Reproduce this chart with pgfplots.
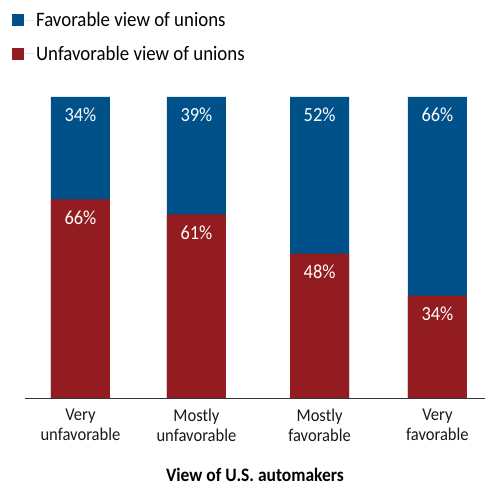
\documentclass[border=0pt]{standalone}
\usepackage{pgfplots}
\pgfplotsset{compat=1.18}
\usepackage{fontspec}
\setmainfont{Carlito}[FakeStretch=0.92]
\definecolor{favblue}{HTML}{005189}
\definecolor{unfred}{HTML}{921C1F}
\begin{document}
\begin{tikzpicture}
\useasboundingbox (-25pt,-87pt) rectangle (460pt,398pt);
\begin{axis}[
  scale only axis,
  width=460pt, height=301pt,
  at={(0pt,0pt)}, anchor=south west,
  xmin=-0.466, xmax=3.40,
  ymin=0, ymax=100,
  ybar, bar shift=0pt,
  bar width=59pt,
  axis x line=bottom,
  axis y line=none,
  x axis line style={-, line width=0.9pt, black!80},
  major tick length=0pt,
  xtick={0,0.975,2.01,3},
  xticklabels={{Very\\unfavorable},{Mostly\\unfavorable},{Mostly\\favorable},{Very\\favorable}},
  xticklabel style={align=center, font=\fontsize{18}{20}\selectfont, text=black!90, yshift=-7pt},
  xlabel={\textbf{View of U.S. automakers}},
  xlabel style={font=\fontsize{19}{22}\selectfont, yshift=-20pt},
  point meta=explicit,
  nodes near coords={\pgfmathprintnumber[assume math mode=true]{\pgfplotspointmeta}\%},
  every node near coord/.append style={anchor=center, yshift=-18pt, text=white, font=\fontsize{20}{22}\selectfont},
  legend style={at={(-0.028,1.287)}, anchor=north west, draw=none, fill=none, inner sep=0pt, outer sep=0pt,
    font=\fontsize{20.5}{22}\selectfont, row sep=13.5pt, cells={anchor=west}},
  legend cell align=left,
  legend image code/.code={\path (0pt,0pt) -- (22pt,0pt); \fill[#1] (0pt,-6pt) rectangle (12pt,6pt);},
]
% Favorable view of unions (full bar: unfavorable + favorable = 100, label = favorable share)
\addplot[fill=favblue, draw=none] coordinates {(0,100) [34] (0.975,100) [39] (2.01,100) [52] (3,100) [66]};
% Unfavorable view of unions
\addplot[fill=unfred, draw=none] coordinates {(0,66) [66] (0.975,61) [61] (2.01,48) [48] (3,34) [34]};
\legend{Favorable view of unions, Unfavorable view of unions}
\end{axis}
\end{tikzpicture}
\end{document}
